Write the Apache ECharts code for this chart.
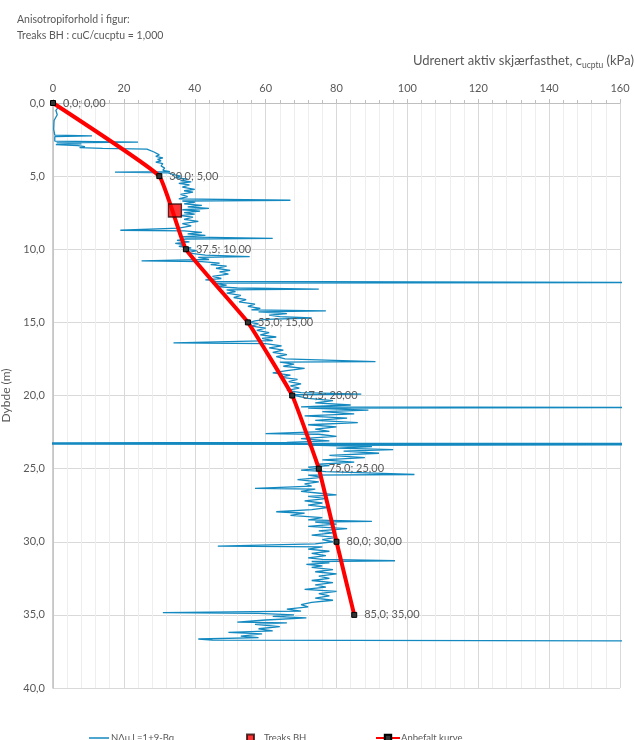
<!DOCTYPE html>
<html>
<head>
<meta charset="utf-8">
<script src="https://cdn.jsdelivr.net/npm/echarts@6/dist/echarts.min.js"></script>
<style>
  html, body { margin: 0; padding: 0; background: #fff; }
  #chart { width: 634px; height: 740px; }
</style>
</head>
<body>
<div id="chart"></div>
<script>
// CPTU-derived undrained shear strength profile (NΔu, L = 1 + 9·Bq)
const cptDepth = [
  0.00, 0.30, 0.50, 0.80, 1.20, 1.80, 2.20, 2.25, 2.30, 2.60, 2.68, 2.72, 2.80, 2.85, 2.92, 2.98,
  3.05, 3.10, 3.15, 3.25, 3.35, 3.45, 3.55, 3.65, 3.75, 3.85, 3.95, 4.05, 4.15, 4.30, 4.45, 4.60,
  4.70, 4.72, 4.78, 4.90, 5.00, 5.10, 5.20, 5.30, 5.40, 5.50, 5.60, 5.75, 5.90, 6.00, 6.10, 6.25,
  6.40, 6.55, 6.65, 6.70, 6.80, 6.90, 7.00, 7.10, 7.20, 7.30, 7.40, 7.50, 7.60, 7.70, 7.80, 7.95,
  8.10, 8.25, 8.40, 8.55, 8.70, 8.75, 8.85, 8.95, 9.05, 9.15, 9.25, 9.30, 9.40, 9.50, 9.60, 9.70,
  9.80, 9.90, 10.00, 10.10, 10.25, 10.40, 10.50, 10.55, 10.70, 10.80, 10.85, 10.95, 11.05, 11.15, 11.30, 11.45,
  11.55, 11.70, 11.85, 12.00, 12.10, 12.20, 12.28, 12.32, 12.45, 12.55, 12.65, 12.72, 12.78, 12.90, 13.00, 13.15,
  13.30, 13.45, 13.60, 13.75, 13.90, 14.05, 14.15, 14.22, 14.28, 14.40, 14.50, 14.60, 14.70, 14.80, 14.90, 15.00,
  15.10, 15.25, 15.40, 15.55, 15.70, 15.85, 16.00, 16.10, 16.25, 16.40, 16.45, 16.60, 16.75, 16.90, 17.05, 17.20,
  17.35, 17.50, 17.68, 17.72, 17.85, 18.00, 18.15, 18.30, 18.45, 18.60, 18.75, 18.90, 19.05, 19.20, 19.35, 19.50,
  19.65, 19.80, 19.90, 19.95, 20.05, 20.20, 20.35, 20.50, 20.65, 20.78, 20.82, 20.86, 21.00, 21.10, 21.25, 21.40,
  21.55, 21.70, 21.85, 22.00, 22.15, 22.30, 22.45, 22.60, 22.65, 22.80, 22.95, 23.10, 23.20, 23.25, 23.28, 23.32,
  23.36, 23.40, 23.50, 23.60, 23.70, 23.80, 23.95, 24.10, 24.25, 24.40, 24.55, 24.70, 24.80, 24.90, 25.00, 25.10,
  25.20, 25.40, 25.45, 25.60, 25.75, 25.90, 26.05, 26.20, 26.35, 26.40, 26.55, 26.70, 26.80, 26.90, 27.05, 27.20,
  27.35, 27.50, 27.65, 27.80, 27.95, 28.05, 28.20, 28.35, 28.50, 28.60, 28.65, 28.80, 28.95, 29.10, 29.25, 29.40,
  29.55, 29.70, 29.85, 30.00, 30.15, 30.30, 30.35, 30.50, 30.65, 30.80, 30.95, 31.10, 31.20, 31.30, 31.35, 31.45,
  31.55, 31.65, 31.75, 31.90, 32.05, 32.20, 32.35, 32.50, 32.65, 32.80, 32.95, 33.10, 33.25, 33.40, 33.55, 33.70,
  33.85, 34.00, 34.15, 34.30, 34.45, 34.60, 34.75, 34.85, 34.90, 35.00, 35.10, 35.20, 35.35, 35.50, 35.55, 35.65,
  35.80, 35.95, 36.10, 36.20, 36.30, 36.45, 36.55, 36.65, 36.72, 36.78
];
const cptCu = [
  0.5, 1.5, 0.8, 1.2, 0.3, 0.2, 0.5, 11, 0.5, 0.5, 24, 1, 8, 0.8, 7, 9,
  7.5, 14, 26.5, 26, 28.5, 28, 30, 29, 31, 29.5, 30.5, 29, 31, 30.5, 31.5, 31,
  33, 17.5, 32.5, 34, 36, 34.5, 38, 36, 39, 35.5, 38.5, 36.5, 40, 37, 39.5, 36,
  38, 35.5, 67, 36.5, 40, 37, 42, 38, 44, 36.5, 41.5, 37, 40, 36, 39.5, 37,
  41, 36.5, 39, 35.5, 19, 37, 42, 38, 43, 36, 62, 37.5, 35, 38.5, 34.5, 37.5,
  35.5, 39, 37, 40.5, 38, 43, 55.5, 41, 44, 25, 42, 47, 44.5, 49, 46, 50,
  47, 49.5, 45, 47.5, 43, 46, 170, 45, 49, 46, 52, 75, 49, 51.5, 49, 53,
  51, 54.5, 52.5, 57, 55, 58.5, 56, 77, 58, 66, 61, 64, 73, 60, 57, 55.5,
  58, 56, 60, 57.5, 61, 58.5, 63, 59, 62, 34, 60, 64.5, 61, 65, 62, 66,
  63, 65.5, 91, 64, 68, 65, 71, 66, 62, 67, 64, 69, 66.5, 70, 67, 69.5,
  66, 70, 87, 67, 69, 72, 79, 74, 84, 70, 175, 72, 89, 76, 85, 71,
  83, 74, 86, 72, 80, 74, 78, 60, 75, 80, 70, 78, 66, -10, 180, -10,
  180, 72, 90, 80, 96, 82, 92, 78, 88, 76, 85, 75, 78, 72, 75, 70,
  77, 102, 72, 76, 69, 75, 71, 73, 57, 74, 70, 76, 80, 72, 77, 71,
  76, 72, 78, 73, 63, 71, 67, 76, 72, 90, 74, 80, 72, 83, 75, 79,
  73, 80, 76, 79, 74, 46.5, 76, 72, 78, 73, 77, 72, 76, 96.5, 73, 78,
  71.5, 76, 73, 79, 74, 80, 75, 78, 73, 79, 74, 77, 71, 80, 75, 78,
  74, 79, 73, 70, 72, 66, 70, 31, 58, 68, 62, 71.5, 60, 52, 66, 57,
  64, 58, 62, 49.5, 59, 53, 58, 41, 45, 180
];

// Recommended design curve
const curveCu = [0, 30, 37.5, 55, 67.5, 75, 80, 85];
const curveDepth = [0, 5, 10, 15, 20, 25, 30, 35];

// Anisotropy reference point (Treaks BH)
const treaksCu = [34.4];
const treaksDepth = [7.35];

const xTicks = { min: 0, max: 160, interval: 20 };
const yTicks = { min: 0, max: 40, interval: 5 };

const seriesNames = ['NΔu.L=1+9-Bq', 'Treaks BH', 'Anbefalt kurve'];

const FONT = 'Lato, "Open Sans", sans-serif';
const GREY = '#595959';

const comma = (v, d) => v.toFixed(d).replace('.', ',');
const zip = (xs, ys) => xs.map((x, i) => [x, ys[i]]);

const chart = echarts.init(document.getElementById('chart'), null, { renderer: 'canvas' });

chart.setOption({
  animation: false,
  backgroundColor: '#fff',
  textStyle: { fontFamily: FONT },
  title: [
    {
      text: 'Anisotropiforhold i figur:\nTreaks BH : cuC/cucptu = 1,000',
      left: 12, top: 7,
      textStyle: { fontFamily: FONT, fontSize: 10.5, fontWeight: 'normal', color: GREY, lineHeight: 16 }
    },
    {
      text: '{m|Udrenert aktiv skjærfasthet, c}{s|ucptu}{m| (kPa)}',
      left: 408, top: 44,
      textStyle: {
        fontWeight: 'normal',
        rich: {
          m: { fontFamily: FONT, fontSize: 13, fontWeight: 'normal', color: GREY, lineHeight: 18, verticalAlign: 'bottom' },
          s: { fontFamily: FONT, fontSize: 8.5, fontWeight: 'normal', color: GREY, lineHeight: 12, verticalAlign: 'bottom', padding: [0, 0, -3, 0] }
        }
      }
    }
  ],
  grid: { left: 53, right: 14, top: 103, bottom: 52, containLabel: false, outerBoundsMode: 'none' },
  xAxis: {
    type: 'value',
    position: 'top',
    min: xTicks.min, max: xTicks.max, interval: xTicks.interval,
    axisLine: { show: true, lineStyle: { color: '#bfbfbf', width: 1 } },
    axisTick: { show: true, inside: false, length: 4, lineStyle: { color: '#bfbfbf' } },
    minorTick: { show: true, splitNumber: 5, length: 3, lineStyle: { color: '#bfbfbf' } },
    splitLine: { show: true, lineStyle: { color: '#d9d9d9', width: 1 } },
    minorSplitLine: { show: true, lineStyle: { color: '#eeeeee', width: 1 } },
    axisLabel: { color: GREY, fontSize: 11, margin: 9, fontFamily: FONT }
  },
  yAxis: {
    type: 'value',
    inverse: true,
    min: yTicks.min, max: yTicks.max, interval: yTicks.interval,
    name: 'Dybde (m)',
    nameLocation: 'middle',
    nameGap: 35,
    nameRotate: 90,
    nameTextStyle: { color: GREY, fontSize: 12, fontFamily: FONT },
    axisLine: { show: true, lineStyle: { color: '#bfbfbf', width: 1.5 } },
    axisTick: { show: false },
    splitLine: { show: true, lineStyle: { color: '#d9d9d9', width: 1 } },
    axisLabel: { color: GREY, fontSize: 11, margin: 8, fontFamily: FONT, formatter: v => comma(v, 1) }
  },
  legend: [
    {
      data: [{ name: seriesNames[0], icon: 'path://M0,0H20V1.5H0Z' }],
      left: 84, top: 728, itemWidth: 20, itemHeight: 8, itemGap: 4, symbolKeepAspect: true,
      textStyle: { color: GREY, fontSize: 9.5, fontFamily: FONT, padding: [0, 0, 0, -3] }
    },
    {
      data: [seriesNames[1]], left: 241, top: 728, itemWidth: 7, itemHeight: 7,
      textStyle: { color: GREY, fontSize: 9.5, fontFamily: FONT, padding: [0, 0, 0, 5] }
    },
    {
      data: [seriesNames[2]], left: 370, top: 728, itemWidth: 24, itemHeight: 8,
      textStyle: { color: GREY, fontSize: 9.5, fontFamily: FONT, padding: [0, 0, 0, -4] }
    }
  ],
  series: [
    {
      name: seriesNames[0],
      type: 'line',
      data: zip(cptCu, cptDepth),
      symbol: 'none',
      clip: true,
      lineStyle: { color: '#1389c0', width: 1.3 },
      itemStyle: { color: '#1389c0' },
      z: 2
    },
    {
      name: seriesNames[2],
      type: 'line',
      data: zip(curveCu, curveDepth),
      smooth: 0.1,
      symbol: 'rect',
      symbolSize: 5,
      lineStyle: { color: '#ff0000', width: 4 },
      itemStyle: { color: '#333333', borderColor: '#000', borderWidth: 1 },
      label: {
        show: true,
        position: 'right',
        distance: 7,
        color: GREY,
        fontSize: 11,
        fontFamily: FONT,
        formatter: p => comma(p.value[0], 1) + '; ' + comma(p.value[1], 2)
      },
      z: 3
    },
    {
      name: seriesNames[1],
      type: 'scatter',
      data: zip(treaksCu, treaksDepth),
      symbol: 'rect',
      symbolSize: 13,
      itemStyle: { color: '#ff0000', borderColor: '#2a0a0a', borderWidth: 1.3 },
      z: 4
    }
  ]
});
</script>
</body>
</html>
